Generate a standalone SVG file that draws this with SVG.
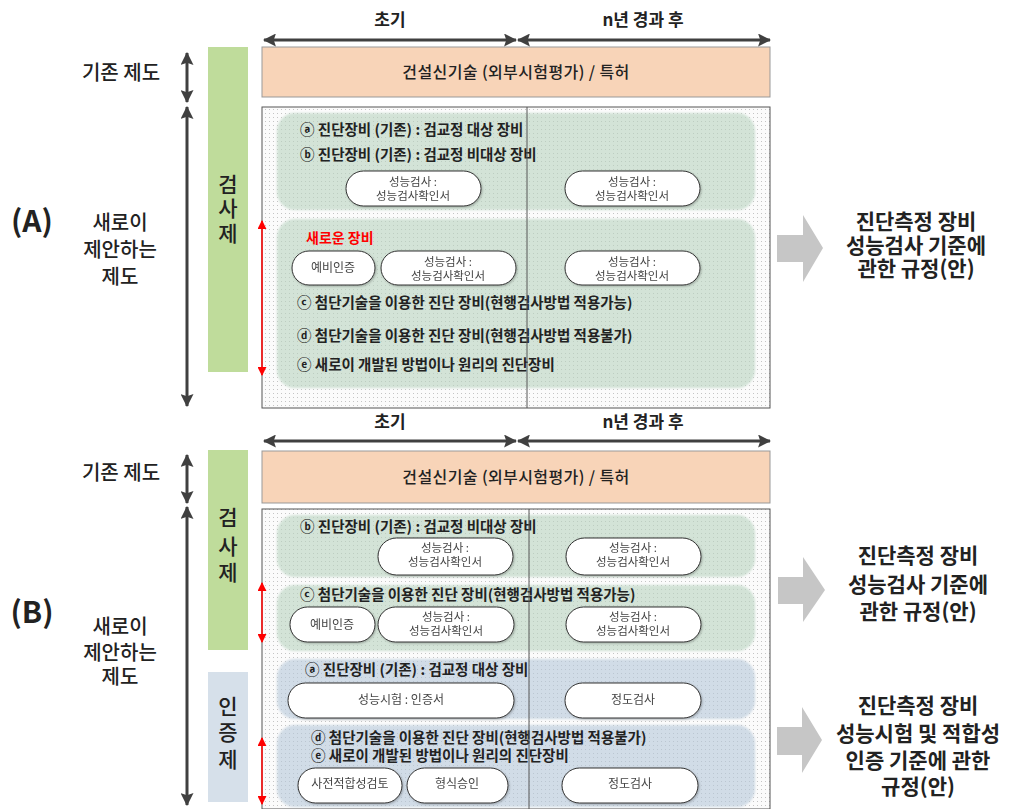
<svg xmlns="http://www.w3.org/2000/svg" width="1014" height="809" viewBox="0 0 1014 809">
<style>
text{font-family:"Noto Sans CJK KR","Noto Sans",sans-serif;fill:#222}
.hdr{font-size:17px;font-weight:bold;text-anchor:middle}
.org{font-size:16px;text-anchor:middle;font-weight:500;letter-spacing:0.4px}
.item{font-size:14.5px;font-weight:bold}
.pill{fill:#fff;stroke:#333;stroke-width:1}
.pt{font-size:11.5px;fill:#444;text-anchor:middle}
.pt2{font-size:12px;fill:#444;text-anchor:middle}
.lbl{font-size:20px;text-anchor:middle;font-weight:500}
.big{font-size:30px;font-weight:bold;text-anchor:middle}
.res{font-size:21px;font-weight:bold;text-anchor:middle}
.vt{font-size:21px;text-anchor:middle;font-weight:500}
.box{fill:url(#dots);stroke:#555;stroke-width:1}
.orange{fill:#f8d4b8;stroke:#999;stroke-width:1}
.gp{fill:#b8d4c0;fill-opacity:0.6}
.bp{fill:#b5c8d8;fill-opacity:0.6}
.dark{stroke:#404040;stroke-width:3;fill:none}
.red{stroke:#ff0000;stroke-width:1.5;fill:none}
.blk{fill:#c6c6c6}
.div{stroke:#555;stroke-width:1}
</style>
<defs>
<pattern id="dots" width="4" height="4" patternUnits="userSpaceOnUse">
<rect width="4" height="4" fill="#fbfbfb"/>
<rect x="1" y="1" width="1" height="1" fill="#c4c4c4"/>
</pattern>
<marker id="ah" viewBox="0 0 12 12" refX="11" refY="6" markerWidth="13" markerHeight="13" orient="auto-start-reverse" markerUnits="userSpaceOnUse">
<path d="M0,0 L12,6 L0,12 L2,6 z" fill="#404040"/>
</marker>
<marker id="rh" viewBox="0 0 10 10" refX="9" refY="5" markerWidth="9" markerHeight="9" orient="auto-start-reverse" markerUnits="userSpaceOnUse">
<path d="M0,0 L10,5 L0,10 z" fill="#ff0000"/>
</marker>
<filter id="sh" x="-10%" y="-20%" width="120%" height="140%">
<feDropShadow dx="1" dy="1" stdDeviation="1" flood-color="#000" flood-opacity="0.25"/>
</filter>
<filter id="soft" x="-5%" y="-10%" width="110%" height="120%">
<feGaussianBlur stdDeviation="1.2"/>
</filter>
</defs>

<!-- ===== Panel A ===== -->
<g id="A-label"><text class="big" x="32" y="232">(A)</text></g>
<g id="A-header">
<text class="hdr" x="390" y="26">초기</text>
<text class="hdr" x="643" y="26">n년 경과 후</text>
</g>
<g id="A-existing">
<rect class="orange" x="262" y="47" width="508" height="50"/>
<text class="org" x="516" y="78">건설신기술 (외부시험평가) / 특허</text>
</g>
<g id="A-left-labels">
<text class="lbl" x="121" y="80">기존 제도</text>
<text class="lbl" x="120" y="230"><tspan x="120">새로이</tspan><tspan x="120" dy="27">제안하는</tspan><tspan x="120" dy="27">제도</tspan></text>
</g>
<g id="A-inspection-bar">
<rect x="208" y="47" width="40" height="325" fill="#bfdc9b"/>
<text class="vt" x="228" y="192"><tspan x="228">검</tspan><tspan x="228" dy="24">사</tspan><tspan x="228" dy="25">제</tspan></text>
</g>
<g id="A-main">
<rect class="box" x="262" y="107" width="508" height="301"/>
</g>
<g id="A-group1">
<rect class="gp" x="277" y="113" width="478" height="97" rx="18" filter="url(#soft)"/>
<text class="item" x="300" y="135">ⓐ 진단장비 (기존) : 검교정 대상 장비</text>
<text class="item" x="300" y="160">ⓑ 진단장비 (기존) : 검교정 비대상 장비</text>
</g>
<g id="A-pill1" filter="url(#sh)">
<rect class="pill" x="346" y="171" width="135" height="35" rx="17.5"/>
<text class="pt" x="413" y="186"><tspan x="413">성능검사 :</tspan><tspan x="413" dy="14">성능검사확인서</tspan></text>
</g>
<g id="A-pill2" filter="url(#sh)">
<rect class="pill" x="565" y="171" width="135" height="35" rx="17.5"/>
<text class="pt" x="632" y="186"><tspan x="632">성능검사 :</tspan><tspan x="632" dy="14">성능검사확인서</tspan></text>
</g>
<g id="A-group2">
<rect class="gp" x="277" y="219" width="478" height="169" rx="18" filter="url(#soft)"/>
<text x="306" y="243" style="font-size:14px;font-weight:bold;fill:#ff0000">새로운 장비</text>
<text class="item" x="297" y="308">ⓒ 첨단기술을 이용한 진단 장비(현행검사방법 적용가능)</text>
<text class="item" x="297" y="341">ⓓ 첨단기술을 이용한 진단 장비(현행검사방법 적용불가)</text>
<text class="item" x="297" y="370">ⓔ 새로이 개발된 방법이나 원리의 진단장비</text>
</g>
<g id="A-pill3" filter="url(#sh)">
<rect class="pill" x="292" y="251" width="83" height="34" rx="17"/>
<text class="pt2" x="333" y="272">예비인증</text>
</g>
<g id="A-pill4" filter="url(#sh)">
<rect class="pill" x="381" y="251" width="135" height="34" rx="17"/>
<text class="pt" x="448" y="266"><tspan x="448">성능검사 :</tspan><tspan x="448" dy="14">성능검사확인서</tspan></text>
</g>
<g id="A-pill5" filter="url(#sh)">
<rect class="pill" x="565" y="251" width="135" height="34" rx="17"/>
<text class="pt" x="632" y="266"><tspan x="632">성능검사 :</tspan><tspan x="632" dy="14">성능검사확인서</tspan></text>
</g>
<g id="A-result">
<path class="blk" d="M777,235 L803,235 L803,215 L823,248 L803,282 L803,262 L777,262 z"/>
<text class="res" x="916" y="229"><tspan x="916">진단측정 장비</tspan><tspan x="916" dy="24">성능검사 기준에</tspan><tspan x="916" dy="23">관한 규정(안)</tspan></text>
</g>

<!-- ===== Panel B ===== -->
<g id="B-label"><text class="big" x="32" y="623">(B)</text></g>
<g id="B-header">
<text class="hdr" x="390" y="428">초기</text>
<text class="hdr" x="643" y="428">n년 경과 후</text>
</g>
<g id="B-existing">
<rect class="orange" x="262" y="451" width="508" height="52"/>
<text class="org" x="516" y="483">건설신기술 (외부시험평가) / 특허</text>
</g>
<g id="B-left-labels">
<text class="lbl" x="121" y="480">기존 제도</text>
<text class="lbl" x="120" y="634"><tspan x="120">새로이</tspan><tspan x="120" dy="26">제안하는</tspan><tspan x="120" dy="24">제도</tspan></text>
</g>
<g id="B-inspection-bar">
<rect x="208" y="450" width="40" height="200" fill="#bfdc9b"/>
<text class="vt" x="228" y="525"><tspan x="228">검</tspan><tspan x="228" dy="29">사</tspan><tspan x="228" dy="26">제</tspan></text>
</g>
<g id="B-cert-bar">
<rect x="208" y="672" width="40" height="130" fill="#d6e0ea"/>
<text class="vt" x="228" y="714"><tspan x="228">인</tspan><tspan x="228" dy="26">증</tspan><tspan x="228" dy="27">제</tspan></text>
</g>
<g id="B-main">
<rect class="box" x="262" y="509" width="508" height="300"/>
</g>
<g id="B-group-b">
<rect class="gp" x="277" y="515" width="478" height="62" rx="18" filter="url(#soft)"/>
<text class="item" x="300" y="532">ⓑ 진단장비 (기존) : 검교정 비대상 장비</text>
</g>
<g id="B-pill1" filter="url(#sh)">
<rect class="pill" x="378" y="538" width="135" height="37" rx="18.5"/>
<text class="pt" x="445" y="552"><tspan x="445">성능검사 :</tspan><tspan x="445" dy="14">성능검사확인서</tspan></text>
</g>
<g id="B-pill2" filter="url(#sh)">
<rect class="pill" x="566" y="538" width="135" height="37" rx="18.5"/>
<text class="pt" x="633" y="552"><tspan x="633">성능검사 :</tspan><tspan x="633" dy="14">성능검사확인서</tspan></text>
</g>
<g id="B-group-c">
<rect class="gp" x="277" y="585" width="478" height="66" rx="18" filter="url(#soft)"/>
<text class="item" x="300" y="600">ⓒ 첨단기술을 이용한 진단 장비(현행검사방법 적용가능)</text>
</g>
<g id="B-pill3" filter="url(#sh)">
<rect class="pill" x="290" y="607" width="85" height="35" rx="17.5"/>
<text class="pt2" x="332" y="629">예비인증</text>
</g>
<g id="B-pill4" filter="url(#sh)">
<rect class="pill" x="378" y="607" width="136" height="35" rx="17.5"/>
<text class="pt" x="446" y="621"><tspan x="446">성능검사 :</tspan><tspan x="446" dy="14">성능검사확인서</tspan></text>
</g>
<g id="B-pill5" filter="url(#sh)">
<rect class="pill" x="566" y="607" width="135" height="35" rx="17.5"/>
<text class="pt" x="633" y="621"><tspan x="633">성능검사 :</tspan><tspan x="633" dy="14">성능검사확인서</tspan></text>
</g>
<g id="B-group-a">
<rect class="bp" x="277" y="659" width="478" height="60" rx="18" filter="url(#soft)"/>
<text class="item" x="305" y="675">ⓐ 진단장비 (기존) : 검교정 대상 장비</text>
</g>
<g id="B-pill6" filter="url(#sh)">
<rect class="pill" x="288" y="683" width="226" height="35" rx="17.5"/>
<text class="pt2" x="401" y="704">성능시험 : 인증서</text>
</g>
<g id="B-pill7" filter="url(#sh)">
<rect class="pill" x="565" y="683" width="136" height="35" rx="17.5"/>
<text class="pt2" x="633" y="704">정도검사</text>
</g>
<g id="B-group-de">
<rect class="bp" x="277" y="725" width="478" height="82" rx="18" filter="url(#soft)"/>
<text class="item" x="311" y="743"><tspan x="311">ⓓ 첨단기술을 이용한 진단 장비(현행검사방법 적용불가)</tspan><tspan x="311" dy="18">ⓔ 새로이 개발된 방법이나 원리의 진단장비</tspan></text>
</g>
<g id="B-pill8" filter="url(#sh)">
<rect class="pill" x="298" y="768" width="104" height="35" rx="17.5"/>
<text class="pt2" x="350" y="788">사전적합성검토</text>
</g>
<g id="B-pill9" filter="url(#sh)">
<rect class="pill" x="407" y="768" width="101" height="35" rx="17.5"/>
<text class="pt2" x="457" y="788">형식승인</text>
</g>
<g id="B-pill10" filter="url(#sh)">
<rect class="pill" x="562" y="768" width="136" height="35" rx="17.5"/>
<text class="pt2" x="630" y="788">정도검사</text>
</g>
<g id="B-result1">
<path class="blk" d="M778,577 L803,577 L803,557 L825,590 L803,622 L803,604 L778,604 z"/>
<text class="res" x="918" y="563"><tspan x="918">진단측정 장비</tspan><tspan x="918" dy="29">성능검사 기준에</tspan><tspan x="918" dy="27">관한 규정(안)</tspan></text>
</g>
<g id="B-result2">
<path class="blk" d="M777,727 L802,727 L802,707 L822,740 L802,773 L802,755 L777,755 z"/>
<text class="res" x="918" y="713"><tspan x="918">진단측정 장비</tspan><tspan x="918" dy="28">성능시험 및 적합성</tspan><tspan x="918" dy="27">인증 기준에 관한</tspan><tspan x="918" dy="26">규정(안)</tspan></text>
</g>

<!-- ===== Connectors ===== -->
<g id="connectors">
<line class="div" x1="527" y1="107" x2="527" y2="408"/>
<line class="div" x1="529" y1="509" x2="529" y2="809"/>
<line class="dark" x1="264" y1="40" x2="516" y2="40" marker-start="url(#ah)" marker-end="url(#ah)"/>
<line class="dark" x1="518" y1="40" x2="770" y2="40" marker-start="url(#ah)" marker-end="url(#ah)"/>
<line class="dark" x1="264" y1="441" x2="516" y2="441" marker-start="url(#ah)" marker-end="url(#ah)"/>
<line class="dark" x1="518" y1="441" x2="770" y2="441" marker-start="url(#ah)" marker-end="url(#ah)"/>
<line class="dark" x1="187" y1="53" x2="187" y2="102" marker-start="url(#ah)" marker-end="url(#ah)"/>
<line class="dark" x1="187" y1="107" x2="187" y2="406" marker-start="url(#ah)" marker-end="url(#ah)"/>
<line class="dark" x1="187" y1="455" x2="187" y2="503" marker-start="url(#ah)" marker-end="url(#ah)"/>
<line class="dark" x1="187" y1="507" x2="187" y2="805" marker-start="url(#ah)" marker-end="url(#ah)"/>
<line class="red" x1="262" y1="221" x2="262" y2="375" marker-start="url(#rh)" marker-end="url(#rh)"/>
<line class="red" x1="262" y1="583" x2="262" y2="642" marker-start="url(#rh)" marker-end="url(#rh)"/>
<line class="red" x1="262" y1="738" x2="262" y2="804" marker-start="url(#rh)" marker-end="url(#rh)"/>
</g>
</svg>
